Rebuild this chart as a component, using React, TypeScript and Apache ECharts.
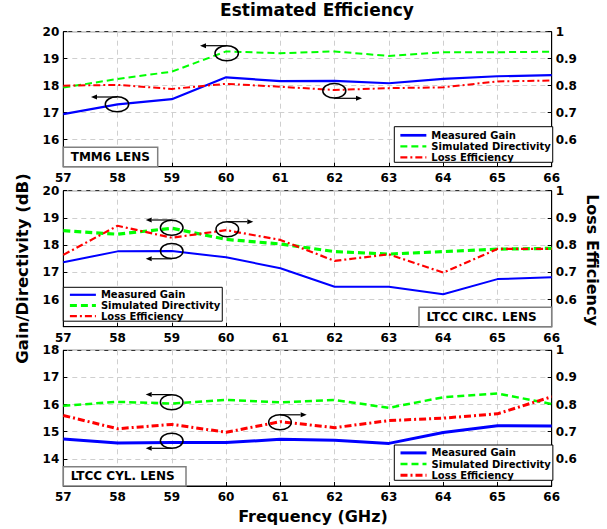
import React, { useEffect, useRef } from "react";
import * as echarts from "echarts";

const freqs = [57, 58, 59, 60, 61, 62, 63, 64, 65, 66];

const tmmGain = [16.95, 17.31, 17.5, 18.31, 18.17, 18.18, 18.09, 18.25, 18.35, 18.39];
const tmmDir = [17.93, 18.25, 18.52, 19.27, 19.2, 19.27, 19.1, 19.24, 19.24, 19.26];
const tmmEff = [0.8, 0.803, 0.788, 0.807, 0.796, 0.784, 0.791, 0.794, 0.816, 0.819];

const circGain = [17.37, 17.77, 17.78, 17.55, 17.15, 16.47, 16.47, 16.19, 16.75, 16.82];
const circDir = [18.53, 18.4, 18.62, 18.21, 18.04, 17.76, 17.67, 17.76, 17.85, 17.88];
const circEff = [0.764, 0.871, 0.827, 0.855, 0.819, 0.742, 0.766, 0.699, 0.786, 0.786];

const cylGain = [14.73, 14.58, 14.6, 14.6, 14.72, 14.69, 14.57, 14.97, 15.22, 15.21];
const cylDir = [15.96, 16.1, 16.04, 16.17, 16.08, 16.17, 15.88, 16.27, 16.41, 16.02];
const cylEff = [0.76, 0.711, 0.727, 0.698, 0.737, 0.715, 0.741, 0.75, 0.766, 0.829];

const seriesNames = ["Measured Gain", "Simulated Directivity", "Loss Efficiency"];
const panelLabels = ["TMM6 LENS", "LTCC CIRC. LENS", "LTCC CYL. LENS"];
const leftRanges = [
  [15, 20],
  [15, 20],
  [13, 18],
];

const FONT = "DejaVu Sans";
const BLUE = "#0000ff";
const GREEN = "#00ff00";
const RED = "#ff0000";
const DASH = [7, 4];
const DASHDOT = [7, 3, 2, 3];

function arrow(x1: number, x2: number, y: number) {
  const dir = x2 > x1 ? 1 : -1;
  const hx = x2 - dir * 6;
  return [
    {
      type: "line",
      z: 50,
      shape: { x1, y1: y, x2: hx, y2: y },
      style: { stroke: "#000", lineWidth: 1.2 },
    },
    {
      type: "polygon",
      z: 50,
      shape: {
        points: [
          [x2, y],
          [hx, y - 2.5],
          [hx, y + 2.5],
        ],
      },
      style: { fill: "#000" },
    },
  ];
}

function ellipse(cx: number, cy: number, rx: number, ry: number) {
  return {
    type: "ellipse",
    z: 50,
    shape: { cx, cy, rx, ry },
    style: { fill: "none", stroke: "#000", lineWidth: 1.5 },
  };
}

function labelBox(x: number, y: number, w: number, h: number, text: string) {
  return [
    {
      type: "rect",
      z: 40,
      shape: { x, y, width: w, height: h },
      style: { fill: "#fff", stroke: "#808080", lineWidth: 1.5 },
    },
    {
      type: "text",
      z: 41,
      x: x + 7.4,
      y: y + h / 2,
      style: {
        text,
        fill: "#000",
        font: `bold 12px "${FONT}"`,
        textAlign: "left",
        textVerticalAlign: "middle",
      },
    },
  ];
}

export default function App() {
  const ref = useRef<HTMLDivElement>(null);

  useEffect(() => {
    if (!ref.current) return;
    const chart = echarts.init(ref.current, undefined, { renderer: "svg" });

    const grids = [
      { left: 63.3, right: 55.3, top: 31.7, height: 135 },
      { left: 63.3, right: 55.3, top: 190.7, height: 136 },
      { left: 63.3, right: 55.3, top: 350.3, height: 135.7 },
    ].map((g) => ({
      ...g,
      show: true,
      borderColor: "#000",
      borderWidth: 1,
      backgroundColor: "transparent",
    }));

    const labelStyle = {
      color: "#000",
      fontFamily: FONT,
      fontWeight: "bold" as const,
      fontSize: 12,
    };

    const xAxes = [0, 1, 2].map((i) => ({
      type: "value",
      gridIndex: i,
      min: 57,
      max: 66,
      interval: 1,
      axisLine: { show: true, lineStyle: { color: "#000", width: 1 } },
      axisTick: { show: true, inside: true, length: 4, lineStyle: { color: "#000" } },
      axisLabel: { ...labelStyle, margin: 5 },
      splitLine: { show: true, lineStyle: { color: "#cfcfcf", type: [5, 4], width: 1 } },
    }));

    const yAxes: any[] = [];
    [0, 1, 2].forEach((i) => {
      yAxes.push({
        type: "value",
        gridIndex: i,
        position: "left",
        min: leftRanges[i][0],
        max: leftRanges[i][1],
        interval: 1,
        axisLine: { show: true, lineStyle: { color: "#000", width: 1 } },
        axisTick: { show: true, inside: true, length: 4, lineStyle: { color: "#000" } },
        axisLabel: { ...labelStyle, margin: 4, showMinLabel: false },
        splitLine: { show: true, lineStyle: { color: "#cfcfcf", type: [5, 4], width: 1 } },
      });
      yAxes.push({
        type: "value",
        gridIndex: i,
        position: "right",
        min: 0.5,
        max: 1,
        interval: 0.1,
        axisLine: { show: true, lineStyle: { color: "#000", width: 1 } },
        axisTick: { show: true, inside: true, length: 4, lineStyle: { color: "#000" } },
        axisLabel: {
          ...labelStyle,
          margin: 4,
          showMinLabel: false,
          formatter: (v: number) => String(+v.toFixed(1)),
        },
        splitLine: { show: false },
      });
    });

    const panels = [
      { gain: tmmGain, dir: tmmDir, eff: tmmEff, w: [2.2, 2, 2] },
      { gain: circGain, dir: circDir, eff: circEff, w: [2, 3.2, 2.2] },
      { gain: cylGain, dir: cylDir, eff: cylEff, w: [3, 2.5, 3] },
    ];

    const series: any[] = [];
    panels.forEach((p, i) => {
      const mk = (name: string, vals: number[], yi: number, color: string, width: number, type: any, z: number) => ({
        type: "line",
        name,
        data: freqs.map((f, k) => [f, vals[k]]),
        xAxisIndex: i,
        yAxisIndex: yi,
        symbol: "none",
        lineStyle: { color, width, type },
        itemStyle: { color },
        z,
      });
      series.push(mk(seriesNames[0], p.gain, i * 2, BLUE, p.w[0], "solid", 3));
      series.push(mk(seriesNames[1], p.dir, i * 2, GREEN, p.w[1], DASH, 4));
      series.push(mk(seriesNames[2], p.eff, i * 2 + 1, RED, p.w[2], DASHDOT, 5));
    });

    const hiddenItem = { opacity: 0, borderWidth: 0, color: "rgba(0,0,0,0)" };
    const mkLegend = (left: number, top: number, padding: number[], gap: number, widths: number[]) => ({
      orient: "vertical",
      left,
      top,
      padding,
      itemGap: gap,
      itemWidth: 26,
      itemHeight: 11.5,
      selectedMode: false,
      borderColor: "#000",
      borderWidth: 1,
      backgroundColor: "#fff",
      z: 30,
      itemStyle: hiddenItem,
      textStyle: { color: "#000", fontFamily: FONT, fontWeight: "bold", fontSize: 10 },
      data: [
        { name: seriesNames[0], itemStyle: hiddenItem, lineStyle: { color: BLUE, width: widths[0], type: "solid", opacity: 1 } },
        { name: seriesNames[1], itemStyle: hiddenItem, lineStyle: { color: GREEN, width: widths[1], type: DASH, opacity: 1 } },
        { name: seriesNames[2], itemStyle: hiddenItem, lineStyle: { color: RED, width: widths[2], type: DASHDOT, opacity: 1 } },
      ],
    });

    const graphic: any[] = [
      // top panel annotations
      ellipse(117, 104.3, 11.7, 7.5),
      ...arrow(117, 91, 97),
      ellipse(226.7, 53.3, 11.7, 7.5),
      ...arrow(226.7, 200, 45.7),
      ellipse(334.3, 90.7, 11.5, 7.2),
      ...arrow(334.3, 362, 98.3),
      // middle panel annotations
      ellipse(171.7, 227.7, 11.3, 7.5),
      ...arrow(171.7, 145.7, 220),
      ellipse(171.7, 251, 11.3, 7.5),
      ...arrow(171.7, 145.7, 258.8),
      ellipse(227.3, 229.3, 11.3, 7.5),
      ...arrow(227.3, 253.3, 221.7),
      // bottom panel annotations
      ellipse(171.7, 402.3, 11.3, 7.5),
      ...arrow(171.7, 145.7, 394.6),
      ellipse(171.7, 440.7, 11.3, 7.5),
      ...arrow(171.7, 145.7, 448.3),
      ellipse(280, 422.2, 11.3, 7.5),
      ...arrow(280, 306.7, 414.8),
      // panel label boxes
      ...labelBox(63.3, 147.3, 94.4, 19.4, panelLabels[0]),
      ...labelBox(419, 307.3, 132.7, 19.4, panelLabels[1]),
      ...labelBox(63.3, 466.7, 122.7, 19.3, panelLabels[2]),
      // axis titles
      {
        type: "text",
        z: 60,
        x: 22,
        y: 268.5,
        rotation: Math.PI / 2,
        style: {
          text: "Gain/Directivity (dB)",
          fill: "#000",
          font: `bold 16.5px "${FONT}"`,
          textAlign: "center",
          textVerticalAlign: "middle",
        },
      },
      {
        type: "text",
        z: 60,
        x: 592,
        y: 260,
        rotation: -Math.PI / 2,
        style: {
          text: "Loss Efficiency",
          fill: "#000",
          font: `bold 16px "${FONT}"`,
          textAlign: "center",
          textVerticalAlign: "middle",
        },
      },
      {
        type: "text",
        z: 60,
        x: 313,
        y: 516.5,
        style: {
          text: "Frequency (GHz)",
          fill: "#000",
          font: `bold 16px "${FONT}"`,
          textAlign: "center",
          textVerticalAlign: "middle",
        },
      },
    ];

    chart.setOption({
      animation: false,
      backgroundColor: "#fff",
      title: {
        text: "Estimated Efficiency",
        left: 317,
        top: 1,
        padding: 0,
        textAlign: "center",
        textStyle: { color: "#000", fontFamily: FONT, fontWeight: "bold", fontSize: 17 },
      },
      grid: grids,
      xAxis: xAxes,
      yAxis: yAxes,
      legend: [
        mkLegend(394.3, 126.7, [3.6, 2, 0, 4.7], 1, [2.7, 2.2, 2.2]),
        mkLegend(63.3, 287.3, [2.5, 2, 0, 5], 0.7, [2.2, 3.2, 2.2]),
        mkLegend(394.3, 445, [2.9, 2, 0, 4.7], 1.2, [3, 2.5, 3]),
      ],
      series,
      graphic,
    });

    return () => chart.dispose();
  }, []);

  return (
    <div
      ref={ref}
      style={{ position: "absolute", left: 0, top: 0, width: 607, height: 529, background: "#fff" }}
    />
  );
}
